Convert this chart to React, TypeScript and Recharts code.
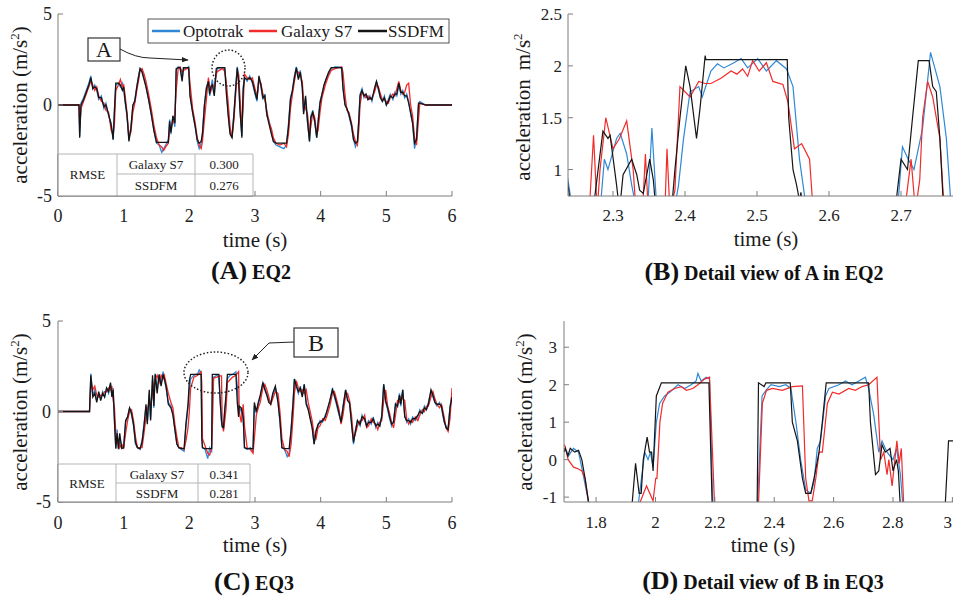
import React from "react"
import { LineChart, Line, XAxis, YAxis } from "recharts"

// ---- (A) EQ2, full record ----
const timeA = [0, 0.3, 0.32, 0.33, 0.35, 0.39, 0.43, 0.47, 0.5, 0.53, 0.56, 0.59, 0.62, 0.66, 0.7, 0.73, 0.77, 0.81, 0.84, 0.86, 0.88, 0.92, 0.95, 0.98, 1.0, 1.02, 1.05, 1.08, 1.11, 1.14, 1.17, 1.2, 1.23, 1.25, 1.28, 1.31, 1.34, 1.38, 1.42, 1.46, 1.5, 1.54, 1.58, 1.61, 1.64, 1.68, 1.7, 1.72, 1.75, 1.78, 1.8, 1.83, 1.86, 1.89, 1.91, 1.96, 1.99, 2.01, 2.05, 2.09, 2.12, 2.15, 2.18, 2.2, 2.23, 2.26, 2.29, 2.31, 2.33, 2.35, 2.38, 2.41, 2.43, 2.5, 2.54, 2.56, 2.59, 2.62, 2.65, 2.68, 2.71, 2.73, 2.75, 2.77, 2.8, 2.82, 2.84, 2.88, 2.92, 2.96, 3.0, 3.03, 3.06, 3.09, 3.12, 3.15, 3.18, 3.21, 3.25, 3.28, 3.32, 3.38, 3.44, 3.48, 3.51, 3.54, 3.57, 3.6, 3.63, 3.66, 3.69, 3.72, 3.74, 3.77, 3.8, 3.83, 3.85, 3.88, 3.91, 3.94, 3.96, 3.99, 4.02, 4.05, 4.08, 4.12, 4.16, 4.22, 4.28, 4.32, 4.34, 4.37, 4.4, 4.43, 4.47, 4.5, 4.53, 4.56, 4.58, 4.6, 4.63, 4.66, 4.69, 4.72, 4.75, 4.78, 4.82, 4.85, 4.88, 4.91, 4.94, 4.97, 5.0, 5.03, 5.06, 5.1, 5.13, 5.16, 5.19, 5.22, 5.25, 5.28, 5.31, 5.34, 5.37, 5.4, 5.43, 5.46, 5.49, 5.51, 5.6, 5.8, 6.0]
const optotrakA = [0, 0, 0, -1.7, 0.1, 0.4, 0.8, 1.2, 1.6, 0.9, 1.1, 0.8, 0.3, 0.5, -0.2, 0.1, -0.6, -1.0, -1.9, -0.2, 1.1, 1.2, 1.0, 1.2, 0.9, 0.2, -0.6, -1.9, -1.2, -0.1, 0.3, 1.0, 1.7, 2.0, 1.9, 1.5, 1.0, 0.3, -0.5, -1.4, -2.1, -2.2, -2.6, -2.4, -2.2, -1.9, -0.8, -1.6, -0.6, -1.2, 1.9, 2.1, 2.0, 1.4, 2.0, 2.0, 2.1, 0.6, -0.4, -1.2, -2.0, -2.4, -2.1, -1.5, 0.0, 1.0, 1.3, 0.5, 1.0, 1.4, 0.6, 1.8, 2.0, 2.05, 2.0, 1.2, -0.4, -1.5, -1.7, -0.4, 1.2, 2.1, 1.6, -0.2, -1.7, 1.0, 1.5, 1.3, 1.6, 1.2, 0.6, 0.2, 1.5, 1.0, 0.3, 0.6, -0.6, -0.8, -1.5, -2.0, -2.2, -2.3, -2.4, -2.2, -1.0, 0.4, 0.8, 1.6, 2.1, 1.5, 1.9, 0.9, -0.4, 0.4, -1.0, -2.0, -0.6, -0.3, -1.0, -1.8, -0.9, 0.2, 0.6, 1.0, 1.4, 1.7, 2.0, 2.1, 2.1, 2.0, 1.0, 0.1, -0.2, -0.6, -1.2, -1.9, -2.3, -2.0, -0.8, 0.6, 0.9, 0.4, 0.6, 0.3, 0.5, 0.2, 0.9, 1.3, 0.8, 0.4, 0.2, 0.5, 0.0, 0.3, 0.6, 0.3, 0.7, 0.5, 1.1, 0.6, 0.8, 0.4, 0.6, 0.2, -0.5, -1.0, -2.4, -1.8, 0.0, 0.2, 0.0, 0.02, 0.0]
const galaxyA = [0, 0, 0, -1.2, -0.2, 0.2, 0.6, 1.0, 1.3, 1.1, 0.8, 1.0, 0.5, 0.2, 0.1, -0.3, -0.4, -1.4, -1.6, -1.0, 0.8, 1.1, 1.4, 1.0, 1.1, 0.6, -0.4, -1.7, -1.5, -0.4, 0.1, 0.8, 1.4, 1.9, 2.0, 1.7, 1.3, 0.6, -0.2, -1.1, -1.8, -2.2, -2.3, -2.5, -2.3, -2.1, -1.4, -1.2, -1.0, -0.5, 0.8, 2.0, 2.1, 1.8, 1.9, 2.0, 2.0, 1.2, -0.2, -1.0, -1.8, -2.2, -2.4, -2.0, -0.8, 0.3, 1.5, 1.0, 0.8, 1.1, 1.0, 1.7, 1.85, 2.0, 1.85, 1.3, 0.2, -1.2, -1.8, -0.8, 0.8, 1.8, 1.7, 0.5, -1.2, 0.0, 1.7, 1.5, 1.4, 1.5, 0.9, 0.5, 1.3, 1.2, 0.6, 0.3, -0.3, -0.9, -1.3, -1.8, -2.1, -2.2, -2.1, -2.3, -1.6, -0.2, 0.6, 1.3, 1.9, 1.8, 1.6, 1.3, 0.2, -0.2, -0.5, -1.6, -1.2, -0.4, -0.7, -1.6, -1.4, -0.4, 0.4, 0.8, 1.2, 1.6, 1.9, 2.0, 2.05, 2.1, 1.8, 0.6, -0.3, -0.4, -1.0, -1.6, -2.0, -2.2, -1.4, 0.0, 0.7, 0.6, 0.4, 0.5, 0.3, 0.4, 0.7, 1.1, 1.0, 0.6, 0.3, 0.3, 0.2, 0.1, 0.4, 0.6, 0.5, 0.9, 1.3, 0.8, 0.6, 0.7, 1.1, 1.2, 0.0, -0.6, -1.8, -2.2, -0.8, 0.1, 0.0, -0.02, 0.0]
const ssdfmA = [0, 0, 0, -1.8, 0.0, 0.3, 0.7, 1.1, 1.5, 0.9, 1.0, 0.9, 0.4, 0.4, -0.1, 0.0, -0.5, -1.1, -1.9, -0.3, 1.2, 1.2, 1.1, 0.8, 1.0, 0.3, -0.5, -2.0, -1.3, 0.0, 0.2, 1.0, 1.6, 2.0, 1.8, 1.4, 1.0, 0.3, -0.5, -1.4, -2.05, -2.05, -2.05, -2.05, -2.05, -2.05, -0.9, -1.5, -0.6, -1.0, 2.0, 2.05, 2.05, 1.3, 2.05, 2.05, 2.05, 0.5, -0.4, -1.2, -1.9, -2.1, -2.0, -1.6, 0.0, 0.9, 1.3, 0.6, 1.0, 1.1, 0.5, 2.0, 2.05, 2.05, 2.05, 0.8, -0.5, -1.6, -1.8, -0.5, 1.1, 2.05, 1.3, -0.2, -1.8, 0.8, 1.5, 1.4, 1.5, 1.3, 0.7, 0.3, 1.6, 1.1, 0.4, 0.5, -0.5, -1.0, -1.6, -2.0, -2.1, -2.1, -2.1, -2.1, -1.2, 0.3, 0.8, 1.5, 2.05, 1.4, 1.8, 1.0, -0.5, 0.5, -0.9, -2.0, -0.7, -0.4, -0.9, -1.8, -1.0, 0.1, 0.6, 1.1, 1.4, 1.8, 2.05, 2.05, 2.05, 2.05, 0.9, 0.0, -0.2, -0.5, -1.1, -1.9, -2.1, -2.0, -0.9, 0.5, 0.8, 0.5, 0.6, 0.3, 0.4, 0.3, 0.9, 1.3, 0.9, 0.4, 0.2, 0.4, 0.0, 0.2, 0.5, 0.4, 0.6, 0.6, 1.2, 0.7, 0.7, 0.5, 0.5, 0.1, -0.4, -1.0, -2.1, -1.9, 0.1, 0.1, 0.0, 0.0, 0.0]

// ---- (C) EQ3, full record ----
const timeC = [0, 0.48, 0.5, 0.53, 0.56, 0.59, 0.62, 0.65, 0.68, 0.71, 0.74, 0.77, 0.8, 0.82, 0.84, 0.86, 0.88, 0.9, 0.92, 0.94, 0.97, 1.0, 1.03, 1.06, 1.09, 1.12, 1.15, 1.18, 1.21, 1.25, 1.28, 1.31, 1.34, 1.36, 1.39, 1.41, 1.44, 1.46, 1.48, 1.51, 1.54, 1.57, 1.6, 1.62, 1.65, 1.68, 1.72, 1.75, 1.78, 1.81, 1.84, 1.88, 1.92, 1.95, 1.98, 2.0, 2.02, 2.07, 2.13, 2.15, 2.18, 2.19, 2.2, 2.24, 2.28, 2.31, 2.34, 2.35, 2.37, 2.42, 2.45, 2.47, 2.49, 2.5, 2.52, 2.54, 2.56, 2.58, 2.62, 2.66, 2.71, 2.73, 2.75, 2.76, 2.79, 2.82, 2.84, 2.88, 2.93, 2.97, 2.99, 3.02, 3.05, 3.08, 3.12, 3.15, 3.18, 3.21, 3.24, 3.27, 3.31, 3.35, 3.38, 3.41, 3.45, 3.49, 3.52, 3.55, 3.58, 3.6, 3.63, 3.66, 3.69, 3.72, 3.75, 3.78, 3.81, 3.84, 3.87, 3.9, 3.93, 3.96, 3.99, 4.03, 4.07, 4.1, 4.14, 4.18, 4.21, 4.24, 4.28, 4.31, 4.34, 4.38, 4.41, 4.44, 4.47, 4.5, 4.53, 4.56, 4.6, 4.63, 4.67, 4.7, 4.73, 4.77, 4.8, 4.84, 4.87, 4.9, 4.93, 4.96, 4.99, 5.02, 5.05, 5.08, 5.11, 5.14, 5.17, 5.2, 5.22, 5.25, 5.28, 5.31, 5.34, 5.37, 5.4, 5.44, 5.48, 5.51, 5.55, 5.58, 5.61, 5.64, 5.68, 5.71, 5.74, 5.77, 5.81, 5.84, 5.88, 5.91, 5.94, 5.97, 6.0]
const optotrakC = [0, 0, 2.1, 0.9, 1.2, 0.6, 1.0, 0.7, 1.1, 0.8, 1.3, 1.0, 1.5, 0.9, 1.3, -0.6, -2.0, -1.0, -2.1, -1.4, -2.0, -1.9, -0.6, -0.3, 0.2, -0.2, -0.8, -1.8, -2.0, -2.1, -1.6, -0.7, 0.3, -0.6, 1.0, -0.4, 1.8, 0.2, 2.1, 1.2, 2.0, 1.5, 2.2, 1.8, 1.2, 0.5, 0.3, -0.1, -1.0, -1.8, -2.0, -2.1, -2.2, -0.8, 0.2, 1.2, 1.8, 2.0, 2.1, 2.3, 2.15, -1.2, -2.0, -2.1, -2.6, -2.0, -2.2, 1.0, 1.9, 2.0, 1.9, 0.5, -0.6, -0.8, -0.9, 0.2, 0.6, 1.8, 2.0, 2.05, 2.2, 1.4, 0.2, 0.3, 0.0, -0.4, -2.0, -2.1, -2.0, -2.2, 0.3, -0.1, 0.4, 0.8, 1.6, 1.3, 1.0, 0.6, 0.5, 0.9, 1.3, 0.6, -0.6, -2.0, -2.1, -2.5, -2.3, -1.0, 0.6, 1.8, 1.4, 1.0, 1.4, 0.9, 1.5, 0.5, 0.2, -0.3, -0.8, -1.8, -1.0, -0.8, -0.5, -0.6, -0.2, 0.0, 0.6, 1.3, 0.8, 0.4, -0.2, -0.5, 0.3, 1.2, 0.7, 0.4, -0.6, -1.8, -1.0, -0.5, -0.8, -0.2, -0.5, -0.8, -0.5, -0.7, -0.3, -0.9, -0.6, -0.8, -0.2, 1.5, 0.5, 0.1, -0.4, -0.8, -0.5, 0.5, 0.2, 1.0, 0.3, 1.2, -0.2, -0.6, -0.4, -0.7, -0.3, -0.5, -0.3, 0.1, -0.1, 0.3, 0.1, 0.5, 1.1, 0.8, 0.5, 0.3, 0.5, 0.2, -0.6, -0.8, -1.0, 0.3, 0.9]
const galaxyC = [0, 0, 1.6, 1.2, 1.4, 0.9, 0.8, 0.9, 0.9, 1.1, 1.1, 1.3, 1.2, 1.4, 0.6, 0.2, -1.2, -1.8, -1.5, -2.0, -1.8, -2.0, -1.2, -0.5, 0.0, 0.1, -0.5, -1.4, -2.0, -2.0, -2.0, -1.2, -0.3, 0.1, 0.5, 0.3, 1.0, 1.5, 1.8, 2.0, 1.6, 2.0, 1.8, 2.0, 1.5, 1.0, 0.5, 0.2, -0.7, -1.4, -2.0, -2.0, -2.1, -1.6, -0.9, 0.0, 1.3, 1.9, 2.0, 2.1, 2.2, 1.5, -1.5, -1.9, -2.3, -2.4, -2.0, -1.0, 1.85, 1.9, 1.95, 1.97, 1.97, -0.6, -1.1, -0.5, 0.2, 1.6, 1.75, 1.9, 2.0, 2.1, 2.2, 0.0, -0.6, 0.4, -0.8, -2.0, -2.1, -2.3, -1.5, -0.2, 0.2, 0.5, 1.3, 1.5, 1.2, 0.8, 0.4, 0.7, 1.1, 1.0, 0.0, -1.5, -2.1, -2.2, -2.5, -1.8, -0.3, 1.0, 1.7, 1.3, 1.1, 1.2, 1.0, 1.2, 0.5, 0.0, -0.5, -1.3, -1.5, -0.9, -0.8, -0.4, -0.5, -0.2, 0.3, 1.0, 1.1, 0.7, 0.1, -0.7, -0.2, 0.9, 1.0, 0.6, -0.2, -1.5, -1.2, -0.8, -0.5, -0.5, -0.2, -0.9, -0.8, -0.4, -0.6, -0.7, -1.0, -0.6, -0.5, 0.6, 1.2, 0.3, -0.1, -0.6, -0.9, -0.2, 0.6, 0.5, 0.8, 0.7, 0.6, -0.4, -0.7, -0.5, -0.6, -0.3, -0.5, -0.2, 0.1, 0.0, 0.3, 0.3, 0.8, 1.1, 0.7, 0.4, 0.2, 0.4, -0.3, -0.9, -1.1, -0.4, 1.3]
const ssdfmC = [0, 0, 2.0, 0.8, 1.0, 0.5, 1.1, 0.6, 1.0, 0.8, 1.3, 1.1, 1.6, 0.8, 1.2, -0.5, -2.05, -1.2, -2.05, -1.2, -2.05, -2.0, -0.5, -0.3, 0.2, -0.1, -0.7, -1.7, -2.0, -2.05, -1.7, -0.8, 0.4, -0.7, 1.2, -0.5, 2.0, 0.3, 2.05, 1.0, 2.05, 1.4, 2.05, 1.8, 1.3, 0.4, 0.2, -0.2, -1.0, -1.8, -2.0, -2.05, -2.05, -0.6, 0.4, 1.7, 2.05, 2.05, 2.05, 2.05, 2.05, -1.5, -2.0, -2.05, -2.05, -2.05, -2.05, 2.05, 2.05, 2.05, 2.05, 0.6, -0.5, -0.85, -0.9, 0.1, 1.0, 2.05, 2.05, 2.05, 2.05, 0.5, -0.3, 0.3, 0.2, -0.3, -2.0, -2.05, -2.05, -2.05, 0.5, 0.0, 0.5, 0.9, 1.6, 1.2, 0.9, 0.5, 0.4, 1.0, 1.4, 0.5, -0.5, -2.0, -2.05, -2.05, -2.05, -1.0, 0.5, 1.8, 1.4, 1.1, 1.3, 0.8, 1.5, 0.4, 0.1, -0.4, -0.9, -1.8, -1.1, -0.7, -0.6, -0.5, -0.3, 0.1, 0.6, 1.2, 0.9, 0.5, -0.1, -0.6, 0.2, 1.2, 0.6, 0.5, -0.7, -1.7, -1.1, -0.5, -0.7, -0.3, -0.4, -0.8, -0.6, -0.6, -0.4, -0.8, -0.7, -0.8, -0.3, 1.5, 0.6, 0.2, -0.3, -0.7, -0.6, 0.4, 0.3, 0.9, 0.4, 1.2, -0.3, -0.5, -0.5, -0.6, -0.4, -0.4, -0.2, 0.0, -0.1, 0.2, 0.1, 0.4, 1.2, 0.9, 0.5, 0.4, 0.4, 0.3, -0.5, -0.9, -1.0, 0.2, 0.8]

// ---- (B) detail view of A ----
const timeOptB = [2.235, 2.237, 2.244, 2.282, 2.288, 2.293, 2.305, 2.31, 2.319, 2.326, 2.333, 2.348, 2.354, 2.361, 2.385, 2.391, 2.398, 2.407, 2.419, 2.424, 2.436, 2.445, 2.454, 2.468, 2.478, 2.487, 2.501, 2.513, 2.527, 2.541, 2.55, 2.559, 2.569, 2.62, 2.695, 2.702, 2.71, 2.718, 2.73, 2.741, 2.754, 2.763, 2.77, 2.8]
const optotrakB = [0.85, 0.92, 0.6, 0.6, 1.1, 1.0, 1.3, 1.35, 1.15, 0.85, 0.6, 0.6, 1.4, 0.6, 0.6, 0.85, 1.3, 1.75, 1.8, 1.7, 1.95, 2.02, 1.98, 2.03, 2.07, 1.98, 2.07, 1.95, 2.05, 1.97, 1.8, 1.1, 0.6, -1.5, 0.6, 1.22, 1.1, 1.0, 1.4, 2.13, 1.8, 1.3, 0.6, -0.2]
const timeGalB = [2.237, 2.267, 2.273, 2.278, 2.282, 2.29, 2.3, 2.309, 2.319, 2.328, 2.332, 2.341, 2.345, 2.349, 2.372, 2.375, 2.379, 2.386, 2.393, 2.407, 2.419, 2.428, 2.436, 2.45, 2.464, 2.472, 2.48, 2.487, 2.494, 2.503, 2.513, 2.522, 2.536, 2.543, 2.552, 2.562, 2.573, 2.578, 2.62, 2.705, 2.714, 2.72, 2.726, 2.73, 2.737, 2.744, 2.754, 2.76, 2.8]
const galaxyB = [0.3, 0.6, 1.33, 0.6, 1.0, 1.5, 1.2, 1.3, 1.47, 1.0, 0.6, 0.6, 1.15, 0.6, 0.6, 1.2, 0.6, 0.8, 1.8, 1.7, 1.85, 1.83, 1.83, 1.88, 1.95, 1.92, 1.97, 1.9, 2.05, 1.95, 2.03, 1.85, 1.82, 1.65, 1.2, 1.25, 1.1, 0.6, -1.2, 0.6, 1.1, 0.6, 0.9, 1.5, 1.85, 1.7, 1.3, 0.6, -0.3]
const timeSsdB = [2.237, 2.244, 2.27, 2.274, 2.286, 2.293, 2.296, 2.305, 2.309, 2.314, 2.326, 2.333, 2.337, 2.342, 2.351, 2.356, 2.361, 2.38, 2.386, 2.393, 2.401, 2.407, 2.416, 2.421, 2.428, 2.429, 2.542, 2.544, 2.55, 2.555, 2.559, 2.561, 2.565, 2.6, 2.69, 2.7, 2.709, 2.716, 2.724, 2.739, 2.744, 2.749, 2.754, 2.76, 2.8]
const ssdfmB = [0.88, 0.5, 0.5, 0.7, 1.37, 1.3, 1.33, 0.85, 0.6, 0.95, 1.1, 0.95, 0.8, 0.77, 1.1, 0.9, 0.5, 0.5, 1.0, 1.5, 2.0, 1.8, 1.3, 1.6, 2.1, 2.06, 2.06, 1.5, 1.0, 0.85, 0.7, 0.78, 0.5, -1.6, 0.5, 1.1, 1.0, 1.5, 2.05, 2.05, 1.8, 1.75, 1.3, 0.5, -0.5]

// ---- (D) detail view of B ----
const timeOptD = [1.692, 1.7, 1.707, 1.724, 1.741, 1.754, 1.774, 1.8, 1.942, 1.953, 1.964, 1.975, 1.983, 1.992, 2.003, 2.014, 2.031, 2.048, 2.076, 2.098, 2.12, 2.137, 2.143, 2.154, 2.171, 2.182, 2.193, 2.2, 2.34, 2.344, 2.359, 2.372, 2.389, 2.417, 2.439, 2.456, 2.473, 2.489, 2.506, 2.523, 2.534, 2.545, 2.556, 2.573, 2.584, 2.618, 2.64, 2.662, 2.685, 2.707, 2.718, 2.735, 2.752, 2.763, 2.78, 2.8, 2.812, 2.825, 2.833, 2.85]
const optotrakD = [0.3, 0.25, 0.1, 0.3, 0.2, -0.3, -1.1, -2.0, -1.2, -0.5, 0.2, 0.0, 0.2, -0.2, 1.0, 1.5, 1.7, 1.8, 2.0, 1.9, 2.0, 2.1, 2.3, 2.1, 2.2, 2.15, -1.2, -2.0, -2.0, -1.2, 1.7, 1.85, 2.0, 1.95, 2.0, 1.9, 1.0, 0.0, -0.8, -0.9, -0.6, 0.3, 0.5, 1.7, 1.9, 2.0, 2.1, 2.0, 2.1, 2.2, 1.9, 1.2, 0.2, 0.5, 0.2, 0.0, 0.3, -0.4, -1.2, -2.0]
const timeGalD = [1.692, 1.696, 1.706, 1.724, 1.741, 1.752, 1.763, 1.774, 1.8, 1.945, 1.97, 1.992, 2.001, 2.005, 2.015, 2.024, 2.042, 2.065, 2.087, 2.104, 2.126, 2.143, 2.165, 2.182, 2.199, 2.21, 2.34, 2.347, 2.36, 2.374, 2.394, 2.427, 2.461, 2.495, 2.506, 2.517, 2.528, 2.54, 2.551, 2.562, 2.579, 2.596, 2.618, 2.651, 2.673, 2.696, 2.718, 2.746, 2.758, 2.769, 2.78, 2.786, 2.797, 2.813, 2.821, 2.828, 2.836, 2.85]
const galaxyD = [0.4, 0.35, 0.0, -0.2, -0.25, -0.3, -0.5, -1.1, -2.0, -1.2, -0.7, -1.1, -0.5, -0.5, 1.0, 1.5, 1.8, 1.9, 1.95, 1.85, 1.9, 2.0, 2.15, 2.2, -1.2, -2.0, -2.0, -1.2, 1.5, 1.85, 1.9, 1.85, 1.95, 1.97, -0.5, -1.1, -1.1, -0.5, 0.2, 0.2, 1.5, 1.8, 1.75, 1.9, 1.85, 1.95, 2.0, 2.2, 0.0, 0.2, -0.4, 0.0, -0.7, 0.5, -0.1, 0.3, -1.2, -2.0]
const timeSsdD = [1.692, 1.696, 1.705, 1.713, 1.728, 1.741, 1.752, 1.763, 1.774, 1.8, 1.9, 1.92, 1.933, 1.945, 1.952, 1.959, 1.972, 1.98, 1.987, 1.992, 2.003, 2.02, 2.18, 2.191, 2.2, 2.3, 2.342, 2.347, 2.366, 2.372, 2.454, 2.461, 2.478, 2.495, 2.506, 2.523, 2.534, 2.551, 2.562, 2.575, 2.718, 2.724, 2.73, 2.741, 2.752, 2.763, 2.774, 2.79, 2.8, 2.812, 2.818, 2.825, 2.84, 2.95, 2.976, 2.987, 3.1]
const ssdfmD = [0.2, 0.3, 0.1, 0.3, 0.2, 0.25, 0.0, -0.5, -1.1, -2.0, -2.0, -1.3, -0.1, -0.9, -0.9, 0.0, 0.6, 0.2, 0.2, -0.3, 1.7, 2.05, 2.05, -1.2, -2.0, -2.0, -1.5, 2.05, 1.95, 2.05, 2.05, 1.0, 0.5, -0.5, -0.9, -0.9, -0.5, 0.2, 1.0, 2.05, 2.05, 1.0, 0.5, -0.4, -0.3, 0.4, 0.2, 0.3, -0.3, 0.0, -0.3, -1.3, -2.0, -2.0, -1.2, 0.5, 0.5]

const BLUE = "#2f88d6"
const RED = "#f22a2a"
const BLACK = "#151515"
const AXIS = "#7d7d7d"
const FONT = "'Liberation Serif', 'Times New Roman', serif"
const PAGE_W = 953

const rowsOf = (t: number[], v: number[]) => t.map((x, i) => ({ t: x, v: v[i] }))

type Series = { name: string; color: string; data: { t: number; v: number }[] }

type PanelProps = {
  left: number
  top: number
  width: number
  height: number
  margin: { top: number; right: number; bottom: number; left: number }
  yWidth: number
  xDomain: [number, number]
  yDomain: [number, number]
  xTicks: number[]
  yTicks: number[]
  xGap: number
  yGap: number
  fontSize: number
  lineWidth: number
  series: Series[]
}

function Panel(p: PanelProps) {
  const tickStyle = { fill: "#222", fontSize: p.fontSize, fontFamily: FONT }
  // bottom tick labels; one that would run past the page edge is pulled back inside it
  const xTick = (props: any) => {
    const { x, y, payload } = props
    const pageX = p.left + x
    const half = p.fontSize * 0.3
    const overflow = pageX + half > PAGE_W - 1
    return (
      <text x={overflow ? PAGE_W - 1 - p.left : x} y={y} dy="0.71em" textAnchor={overflow ? "end" : "middle"} {...tickStyle}>
        {payload.value}
      </text>
    )
  }
  return (
    <div style={{ position: "absolute", left: p.left, top: p.top }}>
      <LineChart width={p.width} height={p.height} margin={p.margin}>
        <XAxis xAxisId="b" dataKey="t" type="number" domain={p.xDomain} ticks={p.xTicks}
          allowDataOverflow stroke={AXIS} tickSize={-5} tickMargin={p.xGap} height={30} tick={xTick} />
        <XAxis xAxisId="top" orientation="top" dataKey="t" type="number" domain={p.xDomain} ticks={p.xTicks}
          allowDataOverflow stroke={AXIS} tickSize={-5} height={0} tick={false} />
        <YAxis yAxisId="l" type="number" domain={p.yDomain} ticks={p.yTicks} allowDataOverflow
          stroke={AXIS} tickSize={-5} tickMargin={p.yGap} width={p.yWidth} tick={tickStyle} />
        <YAxis yAxisId="r" orientation="right" type="number" domain={p.yDomain} ticks={p.yTicks} allowDataOverflow
          stroke={AXIS} tickSize={-5} width={0} tick={false} />
        {p.series.map((s) => (
          <Line key={s.name} xAxisId="b" yAxisId="l" data={s.data} dataKey="v" name={s.name}
            type="linear" stroke={s.color} strokeWidth={p.lineWidth} dot={false} isAnimationActive={false} />
        ))}
      </LineChart>
    </div>
  )
}

const txt = { fontFamily: FONT, fill: "#1a1a1a" }

function YTitle({ x, y, parens }: { x: number; y: number; parens: boolean }) {
  return (
    <text transform={`translate(${x},${y}) rotate(-90)`} textAnchor="middle" fontSize={21} {...txt}>
      {parens ? "acceleration (m/s" : "acceleration"}
      {!parens && <tspan dx={9}>m/s</tspan>}
      <tspan dy={-8} fontSize={13}>2</tspan>
      <tspan dy={8}>{parens ? ")" : ""}</tspan>
    </text>
  )
}

function Caption({ x, y, letter, rest }: { x: number; y: number; letter: string; rest: string }) {
  return (
    <text x={x} y={y} textAnchor="middle" fontWeight="bold" {...txt} fill="#111">
      <tspan fontSize={26}>{`(${letter})`}</tspan>
      <tspan fontSize={20} dx={5}>{rest}</tspan>
    </text>
  )
}

function Rmse({ top, x0, c1, c2, x1, mid, bottom, s7, ss }: { top: number; x0: number; c1: number; c2: number; x1: number; mid: number; bottom: number; s7: string; ss: string }) {
  const line = { stroke: "#b5b5b5", strokeWidth: 1 }
  const f = { fontSize: 13, textAnchor: "middle" as const, ...txt }
  return (
    <g>
      <rect x={x0} y={top} width={x1 - x0} height={bottom - top} fill="#fff" />
      <line x1={x0} y1={top} x2={x1} y2={top} {...line} />
      <line x1={c1} y1={mid} x2={x1} y2={mid} {...line} />
      <line x1={c1} y1={top} x2={c1} y2={bottom} {...line} />
      <line x1={c2} y1={top} x2={c2} y2={bottom} {...line} />
      <line x1={x1} y1={top} x2={x1} y2={bottom} {...line} />
      <line x1={x0} y1={bottom} x2={x1} y2={bottom} stroke={AXIS} />
      <line x1={x0} y1={top} x2={x0} y2={bottom} stroke={AXIS} />
      <text x={(x0 + c1) / 2} y={mid + 5} {...f}>RMSE</text>
      <text x={(c1 + c2) / 2} y={(top + mid) / 2 + 5} {...f}>Galaxy S7</text>
      <text x={(c1 + c2) / 2} y={(mid + bottom) / 2 + 5} {...f}>SSDFM</text>
      <text x={(c2 + x1) / 2} y={(top + mid) / 2 + 5} {...f}>{s7}</text>
      <text x={(c2 + x1) / 2} y={(mid + bottom) / 2 + 5} {...f}>{ss}</text>
    </g>
  )
}

export default function App() {
  const seriesA: Series[] = [
    { name: "Optotrak", color: BLUE, data: rowsOf(timeA, optotrakA) },
    { name: "Galaxy S7", color: RED, data: rowsOf(timeA, galaxyA) },
    { name: "SSDFM", color: BLACK, data: rowsOf(timeA, ssdfmA) },
  ]
  const seriesC: Series[] = [
    { name: "Optotrak", color: BLUE, data: rowsOf(timeC, optotrakC) },
    { name: "Galaxy S7", color: RED, data: rowsOf(timeC, galaxyC) },
    { name: "SSDFM", color: BLACK, data: rowsOf(timeC, ssdfmC) },
  ]
  const seriesB: Series[] = [
    { name: "Optotrak", color: BLUE, data: rowsOf(timeOptB, optotrakB) },
    { name: "Galaxy S7", color: RED, data: rowsOf(timeGalB, galaxyB) },
    { name: "SSDFM", color: BLACK, data: rowsOf(timeSsdB, ssdfmB) },
  ]
  const seriesD: Series[] = [
    { name: "Optotrak", color: BLUE, data: rowsOf(timeOptD, optotrakD) },
    { name: "Galaxy S7", color: RED, data: rowsOf(timeGalD, galaxyD) },
    { name: "SSDFM", color: BLACK, data: rowsOf(timeSsdD, ssdfmD) },
  ]

  return (
    <div style={{ position: "absolute", left: 0, top: 0, width: 953, height: 598, overflow: "hidden", background: "#fff" }}>
      <Panel left={0} top={0} width={470} height={230} margin={{ top: 14, right: 18, bottom: 4, left: 0 }}
        yWidth={58} xDomain={[0, 6]} yDomain={[-5, 5]} xTicks={[0, 1, 2, 3, 4, 5, 6]} yTicks={[-5, 0, 5]}
        xGap={18} yGap={11} fontSize={18} lineWidth={1.3} series={seriesA} />
      <Panel left={480} top={0} width={520} height={230} margin={{ top: 14, right: 20, bottom: 4, left: 0 }}
        yWidth={88} xDomain={[2.2375, 2.8097]} yDomain={[0.745, 2.5]} xTicks={[2.3, 2.4, 2.5, 2.6, 2.7]}
        yTicks={[1, 1.5, 2, 2.5]} xGap={18} yGap={11} fontSize={17} lineWidth={1.2} series={seriesB} />
      <Panel left={0} top={300} width={470} height={240} margin={{ top: 21, right: 18, bottom: 8, left: 0 }}
        yWidth={58} xDomain={[0, 6]} yDomain={[-5, 5]} xTicks={[0, 1, 2, 3, 4, 5, 6]} yTicks={[-5, 0, 5]}
        xGap={19} yGap={12} fontSize={18} lineWidth={1.3} series={seriesC} />
      <Panel left={480} top={300} width={520} height={240} margin={{ top: 21, right: 20, bottom: 8, left: 0 }}
        yWidth={84} xDomain={[1.692, 3.093]} yDomain={[-1.13, 3.7]} xTicks={[1.8, 2, 2.2, 2.4, 2.6, 2.8, 3]}
        yTicks={[-1, 0, 1, 2, 3]} xGap={19} yGap={12} fontSize={17} lineWidth={1.2} series={seriesD} />

      <svg width={953} height={598} style={{ position: "absolute", left: 0, top: 0, pointerEvents: "none" }}>
        <defs>
          <marker id="arrow" viewBox="0 0 10 10" refX="9" refY="5" markerWidth="7" markerHeight="7" orient="auto-start-reverse">
            <path d="M0,1 L10,5 L0,9 z" fill="#222" />
          </marker>
        </defs>

        {/* legend of (A) */}
        <rect x={148} y={19} width={301} height={24} fill="#fff" stroke="#555" strokeWidth={1} />
        <line x1={152} y1={31} x2={180} y2={31} stroke={BLUE} strokeWidth={2.5} />
        <text x={183} y={37} fontSize={17} {...txt}>Optotrak</text>
        <line x1={249} y1={31} x2={277} y2={31} stroke={RED} strokeWidth={2.5} />
        <text x={281} y={37} fontSize={17} {...txt}>Galaxy S7</text>
        <line x1={358} y1={31} x2={387} y2={31} stroke={BLACK} strokeWidth={2.5} />
        <text x={388} y={37} fontSize={17} {...txt}>SSDFM</text>

        {/* annotation A */}
        <rect x={88} y={38} width={32} height={23} fill="#fff" stroke="#333" strokeWidth={1.2} />
        <text x={104} y={57} textAnchor="middle" fontSize={22} {...txt}>A</text>
        <path d="M120,49 Q136,58 150,58 L188,60" fill="none" stroke="#222" strokeWidth={1} markerEnd="url(#arrow)" />
        <ellipse cx={228.5} cy={68} rx={16.5} ry={18} fill="none" stroke="#222" strokeWidth={1.5} strokeDasharray="1.5 2" />

        {/* annotation B */}
        <rect x={294} y={328} width={44} height={29} fill="#fff" stroke="#333" strokeWidth={1.2} />
        <text x={316} y={351} textAnchor="middle" fontSize={24} {...txt}>B</text>
        <path d="M294,342 L269,343 L252,360" fill="none" stroke="#222" strokeWidth={1} markerEnd="url(#arrow)" />
        <ellipse cx={216} cy={372.5} rx={32} ry={20.5} fill="none" stroke="#222" strokeWidth={1.5} strokeDasharray="1.5 2" />

        <Rmse top={154} x0={58} c1={117} c2={195} x1={253} mid={174} bottom={196} s7="0.300" ss="0.276" />
        <Rmse top={464} x0={58} c1={116} c2={198} x1={250} mid={483} bottom={502} s7="0.341" ss="0.281" />

        <YTitle x={27} y={105} parens />
        <YTitle x={530} y={107} parens={false} />
        <YTitle x={27} y={412} parens />
        <YTitle x={532} y={412} parens />

        <text x={255} y={247} textAnchor="middle" fontSize={21} {...txt}>time (s)</text>
        <text x={766} y={246} textAnchor="middle" fontSize={21} {...txt}>time (s)</text>
        <text x={255} y={552} textAnchor="middle" fontSize={21} {...txt}>time (s)</text>
        <text x={763} y={552} textAnchor="middle" fontSize={21} {...txt}>time (s)</text>

        <Caption x={251} y={279} letter="A" rest="EQ2" />
        <Caption x={764} y={280} letter="B" rest="Detail view of A in EQ2" />
        <Caption x={254} y={590} letter="C" rest="EQ3" />
        <Caption x={763} y={589} letter="D" rest="Detail view of B in EQ3" />
      </svg>
    </div>
  )
}
